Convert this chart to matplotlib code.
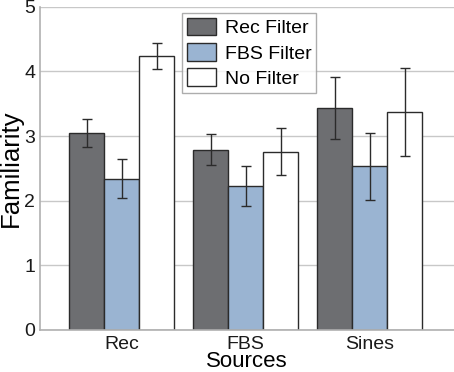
import matplotlib
matplotlib.use("Agg")
import matplotlib.pyplot as plt
import numpy as np

plt.rcParams['font.family'] = ['Liberation Sans', 'DejaVu Sans']

categories = ["Rec", "FBS", "Sines"]
series_names = ["Rec Filter", "FBS Filter", "No Filter"]
means = {
    "Rec Filter": [3.05, 2.79, 3.44],
    "FBS Filter": [2.34, 2.23, 2.53],
    "No Filter": [4.24, 2.76, 3.37],
}
errs = {
    "Rec Filter": [0.22, 0.24, 0.48],
    "FBS Filter": [0.30, 0.31, 0.52],
    "No Filter": [0.20, 0.36, 0.68],
}
colors = ["#6d6e71", "#9ab4d2", "#ffffff"]

fig = plt.figure(figsize=(4.54, 3.72), dpi=100)
ax = fig.add_axes([0.088, 0.113, 0.912, 0.869])

x = np.arange(1, len(categories) + 1)
w = 0.283
for i, name in enumerate(series_names):
    ax.bar(x + (i - 1) * w, means[name], width=w, color=colors[i],
           edgecolor="#2b2b2b", linewidth=1.0, zorder=2,
           yerr=errs[name], error_kw=dict(ecolor="#2b2b2b", elinewidth=1.0,
                                          capsize=3.3, capthick=1.0, zorder=3),
           label=name)

ax.set_xlim(0.34, 3.68)
ax.set_ylim(0, 5)
ax.set_yticks([0, 1, 2, 3, 4, 5])
ax.set_xticks(x)
ax.set_xticklabels(categories)
ax.yaxis.grid(True, color="#c8c8c8", linewidth=1.0, zorder=0)
ax.set_axisbelow(True)
ax.tick_params(axis="both", length=0, labelsize=14, colors="#1a1a1a")
ax.tick_params(axis="x", pad=4)
ax.tick_params(axis="y", pad=3.5)
for s in ["top", "right"]:
    ax.spines[s].set_visible(False)
for s in ["left", "bottom"]:
    ax.spines[s].set_color("#b0b0b0")
    ax.spines[s].set_linewidth(1.2)

ax.set_ylabel("Familiarity", fontsize=18.5, labelpad=1)
ax.set_xlabel("Sources", fontsize=16, labelpad=-1)

leg = ax.legend(loc="upper left", bbox_to_anchor=(0.343, 0.98), fontsize=14,
                frameon=True, fancybox=False, edgecolor="#999999",
                handlelength=1.5, handleheight=1.0, borderpad=0.25,
                labelspacing=0.3, handletextpad=0.45, borderaxespad=0)
leg.get_frame().set_linewidth(1.0)

fig.savefig("out.png", dpi=100)
